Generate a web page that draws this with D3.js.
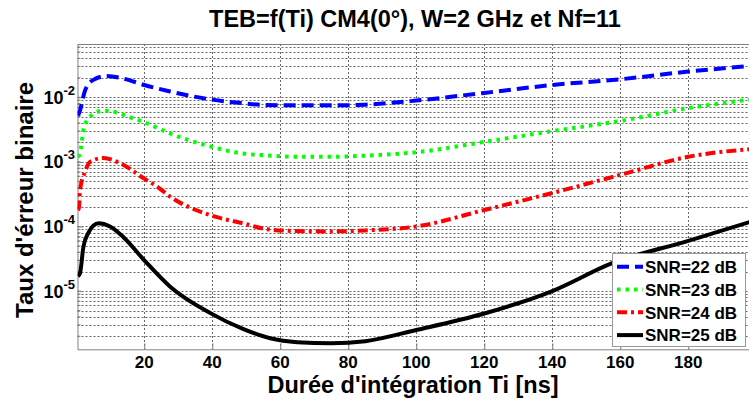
<!DOCTYPE html>
<html><head><meta charset="utf-8">
<script src="https://cdn.jsdelivr.net/npm/d3@7"></script>
<style>
body{margin:0;background:#fff;}
svg{display:block;font-family:"Liberation Sans",Arial,sans-serif;font-weight:bold;}
</style></head>
<body><svg id="c" width="749" height="400"></svg>
<script>
// ---- data ----
const seriesNames = ["SNR=22 dB","SNR=23 dB","SNR=24 dB","SNR=25 dB"];
const xTicks = [20,40,60,80,100,120,140,160,180];
const yTicks = [1e-5,1e-4,1e-3,1e-2];

const ti22 = [0.5,1.1,2.6,5,8.9,13.8,20,27.6,39.3,49,56,65,75,85,100,120,140,160,180,200];
const ber22 = [5.2e-3,6.3e-3,1.29e-2,1.86e-2,2.14e-2,1.95e-2,1.55e-2,1.23e-2,9.3e-3,8.1e-3,7.6e-3,7.5e-3,7.5e-3,7.7e-3,8.9e-3,1.17e-2,1.55e-2,1.9e-2,2.5e-2,3.1e-2];

const ti23 = [0.5,1.1,2.1,4,8,10.9,15.8,20,27.6,39.3,49,56,65,75,85,100,120,140,160,180,200];
const ber23 = [1.2e-3,1.35e-3,3.1e-3,5.0e-3,6.2e-3,6.0e-3,4.9e-3,4.1e-3,2.75e-3,1.74e-3,1.35e-3,1.26e-3,1.2e-3,1.2e-3,1.25e-3,1.41e-3,2.04e-3,3.0e-3,4.3e-3,6.8e-3,9.5e-3];

const ti24 = [0.5,0.8,1.1,2.6,4,8,12.9,20,23.6,27.6,39.3,49,56,65,75,85,100,120,140,160,180,200];
const ber24 = [1.8e-4,2.0e-4,3.7e-4,7.1e-4,1.0e-3,1.15e-3,9.5e-4,5.5e-4,4.2e-4,2.9e-4,1.5e-4,1.12e-4,9.1e-5,8.5e-5,8.4e-5,8.7e-5,1.0e-4,1.8e-4,3.3e-4,6.3e-4,1.2e-3,1.6e-3];

const ti25 = [0.5,1.1,2.1,3.5,6.5,9.9,13.8,20,27.6,39.3,49,57,65,75,85,100,120,140,157.6,180,200];
const ber25 = [1.7e-5,1.9e-5,4.9e-5,7.9e-5,1.12e-4,1.0e-4,6.9e-5,3.0e-5,1.17e-5,4.6e-6,2.6e-6,1.86e-6,1.62e-6,1.56e-6,1.68e-6,2.5e-6,4.5e-6,1.0e-5,2.7e-5,6.0e-5,1.26e-4];

const colors = ["#0000ff","#00ff00","#ff0000","#000000"];
const dashes = ["12,6","3.5,5","10,4,3,4",null];

// ---- layout ----
const svg = d3.select("#c");
const L = 77.5, R = 756.3, T = 44, B = 349.3;
const x = d3.scaleLinear().domain([0.35, 200]).range([L, R]);
const y = d3.scaleLog().domain([Math.pow(10,-5.901), Math.pow(10,-1.175)]).range([B, T]);

svg.append("rect").attr("width",749).attr("height",400).attr("fill","#fff");

// grid
const gridG = svg.append("g");
const minor = [];
for (let e=-6; e<=-1; e++) for (let m=1; m<=9; m++) {
  const v = m*Math.pow(10,e);
  if (v>=y.domain()[0] && v<=y.domain()[1]) minor.push(v);
}
gridG.selectAll("line.h").data(minor).join("line")
  .attr("x1",L).attr("x2",R).attr("y1",d=>Math.round(y(d))+0.5).attr("y2",d=>Math.round(y(d))+0.5)
  .attr("stroke","#666").attr("stroke-width",1).attr("stroke-dasharray","2,2");
gridG.selectAll("line.v").data(xTicks).join("line")
  .attr("x1",d=>Math.round(x(d))+0.5).attr("x2",d=>Math.round(x(d))+0.5).attr("y1",T).attr("y2",B)
  .attr("stroke","#666").attr("stroke-width",1).attr("stroke-dasharray","2,2");

// axes
const xAxis = d3.axisBottom(x).tickValues(xTicks).tickSizeInner(-6).tickSizeOuter(0).tickFormat("");
const gx = svg.append("g").attr("transform",`translate(0,${B})`).call(xAxis);
gx.select(".domain").attr("stroke","#808080");
gx.selectAll(".tick line").attr("stroke","#808080");
svg.append("g").selectAll("text").data(xTicks).join("text")
  .attr("x",d=>x(d)).attr("y",368).attr("text-anchor","middle").attr("font-size",17).attr("fill","#000")
  .text(d=>d);

const yAxis = d3.axisLeft(y).tickValues(yTicks).tickSizeInner(-6).tickSizeOuter(0).tickFormat("");
const gy = svg.append("g").attr("transform",`translate(${L},0)`).call(yAxis);
gy.select(".domain").attr("stroke","#808080");
gy.selectAll(".tick line").attr("stroke","#808080");
svg.append("g").selectAll("line").data(minor).join("line")
  .attr("x1",L).attr("x2",L+3).attr("y1",d=>y(d)).attr("y2",d=>y(d)).attr("stroke","#808080");
// y labels 10^e
const yl = svg.append("g").selectAll("text").data(yTicks).join("text")
  .attr("x",75).attr("y",d=>y(d)+6.5).attr("text-anchor","end").attr("font-size",18).attr("fill","#000");
yl.append("tspan").text("10");
yl.append("tspan").attr("dy",-9).attr("font-size",13).text(d=>String(Math.round(Math.log10(d))));

// top border
svg.append("line").attr("x1",L).attr("x2",R).attr("y1",T+0.5).attr("y2",T+0.5).attr("stroke","#808080");

// curves
svg.append("clipPath").attr("id","clip").append("rect").attr("x",L).attr("y",T).attr("width",R-L).attr("height",B-T);
const line = d3.line().x(d=>x(d[0])).y(d=>y(d[1])).curve(d3.curveMonotoneX);
const series = [[ti22,ber22],[ti23,ber23],[ti24,ber24],[ti25,ber25]];
const cg = svg.append("g").attr("clip-path","url(#clip)");
series.forEach((s,i)=>{
  const pts = s[0].map((t,j)=>[t,s[1][j]]);
  cg.append("path").datum(pts).attr("d",line).attr("fill","none")
    .attr("stroke",colors[i]).attr("stroke-width",4)
    .attr("stroke-dasharray",dashes[i]);
});

// legend
const lg = svg.append("g");
lg.append("rect").attr("x",612.5).attr("y",253.5).attr("width",133).attr("height",93)
  .attr("fill","#fff").attr("stroke","#999");
seriesNames.forEach((n,i)=>{
  const yy = 266.7 + i*22.8;
  lg.append("line").attr("x1",617).attr("x2",643).attr("y1",yy).attr("y2",yy)
    .attr("stroke",colors[i]).attr("stroke-width",4).attr("stroke-dasharray",dashes[i]);
  lg.append("text").attr("x",645).attr("y",yy+6.2).attr("font-size",17).attr("fill","#000").text(n);
});

// titles
svg.append("text").attr("x",415).attr("y",27).attr("text-anchor","middle").attr("font-size",23.5).attr("fill","#000")
  .text("TEB=f(Ti) CM4(0°), W=2 GHz et Nf=11");
svg.append("text").attr("x",413).attr("y",393).attr("text-anchor","middle").attr("font-size",23.5).attr("fill","#000")
  .text("Durée d'intégration Ti [ns]");
svg.append("text").attr("transform","translate(33,200) rotate(-90)").attr("text-anchor","middle").attr("font-size",24).attr("fill","#000")
  .text("Taux d'érreur binaire");
</script></body></html>
